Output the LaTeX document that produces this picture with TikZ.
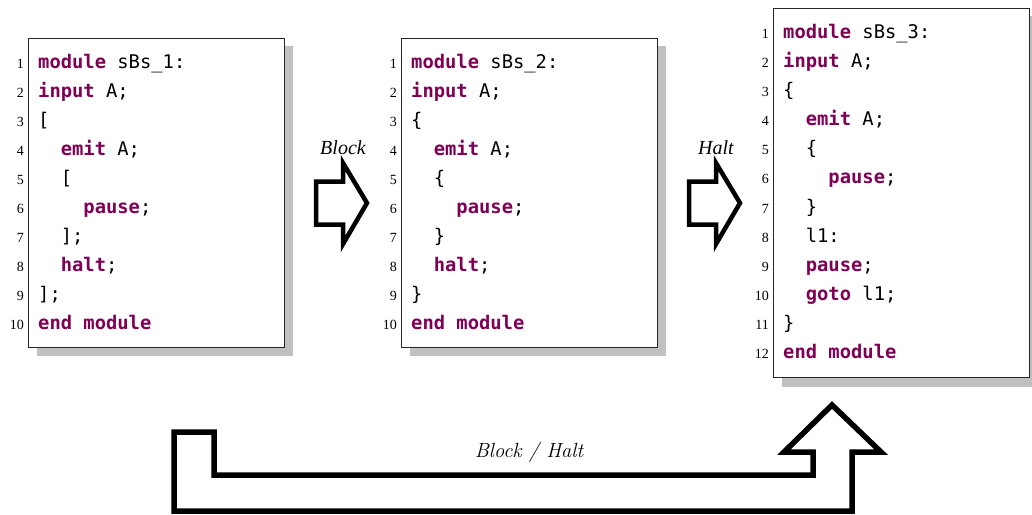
\documentclass[tikz,border=0pt]{standalone}
\usepackage{fontspec}
\newfontfamily\codefont{DejaVu Sans Mono}
\newfontfamily\numfont{Liberation Serif}
\definecolor{kwcolor}{RGB}{127,0,85}
\definecolor{shadowgray}{RGB}{192,192,192}
\newcommand\kwd[1]{{\color{kwcolor}\bfseries #1}}
\newcommand\ii{\phantom{xx}}

\begin{document}
\begin{tikzpicture}[x=1pt,y=-1pt,
  code/.style={anchor=base west, inner sep=0pt, font=\codefont\fontsize{18.8}{20}\selectfont},
  lnum/.style={anchor=base east, inner sep=0pt, font=\numfont\fontsize{14}{16}\selectfont},
  listframe/.style={draw=black!85, line width=0.8pt, fill=white},
  shadowbox/.style={fill=shadowgray, draw=none},
  blockarrow/.style={draw=black, line width=4.5pt, fill=white, line join=miter, miter limit=10},
  bigarrow/.style={draw=black, line width=5.5pt, fill=white, line join=miter, miter limit=10},
  steplabel/.style={inner sep=0pt, font=\numfont\itshape\fontsize{20}{22}\selectfont},
  looplabel/.style={inner sep=0pt, font=\itshape\fontsize{20.5}{24}\selectfont}
]
\useasboundingbox (0,0) rectangle (1032,514);

% --- listing 1: sBs_1 ---
\fill[shadowbox] (37,46) rectangle (293,356);
\draw[listframe] (28,38) rectangle (284,347);
\foreach \t [count=\i] in {
  {\kwd{module} sBs\_1:},
  {\kwd{input} A;},
  {[},
  {\ii\kwd{emit} A;},
  {\ii[},
  {\ii\ii\kwd{pause};},
  {\ii];},
  {\ii\kwd{halt};},
  {];},
  {\kwd{end module}}}{
  \node[code] (pa\i) at (38,{68+(\i-1)*29.1}) {\t};
  \node[lnum] (na\i) at (24,{68+(\i-1)*29.1}) {\i};
}

% --- listing 2: sBs_2 ---
\fill[shadowbox] (410,46) rectangle (666,356);
\draw[listframe] (401,38) rectangle (657,347);
\foreach \t [count=\i] in {
  {\kwd{module} sBs\_2:},
  {\kwd{input} A;},
  {\{},
  {\ii\kwd{emit} A;},
  {\ii\{},
  {\ii\ii\kwd{pause};},
  {\ii\}},
  {\ii\kwd{halt};},
  {\}},
  {\kwd{end module}}}{
  \node[code] (pb\i) at (411,{68+(\i-1)*29.1}) {\t};
  \node[lnum] (nb\i) at (397,{68+(\i-1)*29.1}) {\i};
}

% --- listing 3: sBs_3 ---
\fill[shadowbox] (782,16) rectangle (1038,387);
\draw[listframe] (773,8) rectangle (1029,377);
\foreach \t [count=\i] in {
  {\kwd{module} sBs\_3:},
  {\kwd{input} A;},
  {\{},
  {\ii\kwd{emit} A;},
  {\ii\{},
  {\ii\ii\kwd{pause};},
  {\ii\}},
  {\ii l1:},
  {\ii\kwd{pause};},
  {\ii\kwd{goto} l1;},
  {\}},
  {\kwd{end module}}}{
  \node[code] (pc\i) at (783,{38+(\i-1)*29.18}) {\t};
  \node[lnum] (nc\i) at (769,{38+(\i-1)*29.18}) {\i};
}

% --- transformation arrows ---
\draw[blockarrow] (316,181.5) -- (343,181.5) -- (343,163) -- (367,203)
  -- (343,244) -- (343,224.5) -- (316,224.5) -- cycle;
\node[steplabel] (lblock) at (343,148) {Block};

\draw[blockarrow] (689,181.5) -- (716,181.5) -- (716,163) -- (740,203)
  -- (716,244) -- (716,224.5) -- (689,224.5) -- cycle;
\node[steplabel] (lhalt) at (716,148) {Halt};

% --- direct path sBs_1 -> sBs_3 ---
\draw[bigarrow] (174,432) -- (214,432) -- (214,475) -- (813,475) -- (813,452)
  -- (784,452) -- (832,405) -- (881,452) -- (852,452) -- (852,511)
  -- (174,511) -- cycle;
\node[looplabel] (lboth) at (529,452) {Block / Halt};
\end{tikzpicture}
\end{document}
